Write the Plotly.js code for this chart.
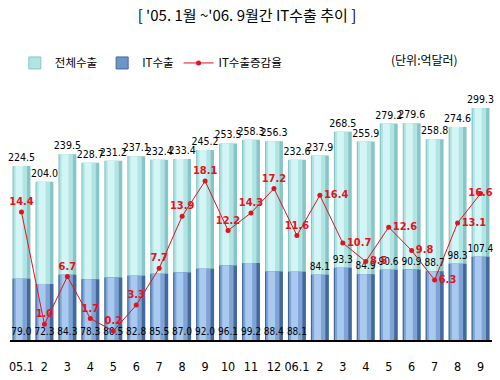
<!DOCTYPE html>
<html>
<head>
<meta charset="utf-8">
<script src="https://cdn.plot.ly/plotly-3.0.1.min.js"></script>
<style>html,body{margin:0;padding:0;background:#fff;}#chart{width:500px;height:380px;}</style>
</head>
<body>
<div id="chart"></div>
<script>
const months = ['05.1','05.2','05.3','05.4','05.5','05.6','05.7','05.8','05.9','05.10','05.11','05.12','06.1','06.2','06.3','06.4','06.5','06.6','06.7','06.8','06.9'];
const tickLabels = ['05.1','2','3','4','5','6','7','8','9','10','11','12','06.1','2','3','4','5','6','7','8','9'];
const totalExport = [224.5,204.0,239.5,228.7,231.2,237.1,232.4,233.4,245.2,253.5,258.3,256.3,232.6,237.9,268.5,255.9,279.2,279.6,258.8,274.6,299.3];
const itExport = [79.0,72.3,84.3,78.3,80.5,82.8,85.5,87.0,92.0,96.1,99.2,88.4,88.1,84.1,93.3,84.9,90.6,90.9,88.7,98.3,107.4];
const itGrowth = [14.4,1.0,6.7,1.7,0.2,3.3,7.7,13.9,18.1,12.2,14.3,17.2,11.6,16.4,10.7,8.5,12.6,9.8,6.3,13.1,16.6];
const seriesNames = ['전체수출','IT수출','IT수출증감율'];

const NUM_FONT = '"DejaVu Sans Condensed","Liberation Sans",sans-serif';
const KR_FONT = '"Noto Sans CJK KR","Noto Sans",sans-serif';

const itTextPos = itExport.map((v,i)=> i < 13 ? 'inside' : 'outside');
const growthTextPos = itGrowth.map((v,i)=> i < 13 ? 'top center' : (i === 20 ? 'middle center' : 'middle right'));

function layer(y, color, width, offset, name){
  const t = {type:'bar', x:months, y:y, name:name, showlegend:false, width:width,
    marker:{color:color, line:{width:0}}, hoverinfo:'skip'};
  if(offset !== null) t.offset = offset;
  return t;
}

const traces = [
  layer(totalExport,'#86c6c6',0.78,null,seriesNames[0]),
  layer(totalExport,'#b3e4e4',0.58,-0.34,seriesNames[0]),
  layer(totalExport,'#d3f5f5',0.30,-0.25,seriesNames[0]),
  layer(itExport,'#44679c',0.78,null,seriesNames[1]),
  layer(itExport,'#7ea3d4',0.58,-0.34,seriesNames[1]),
  layer(itExport,'#a9c9ef',0.30,-0.25,seriesNames[1]),
  {type:'bar', x:months, y:totalExport, name:seriesNames[0], width:0.78,
   marker:{color:'rgba(0,0,0,0)', line:{width:0}}, showlegend:false,
   texttemplate:'%{y:.1f}', textposition:'outside', textangle:0, cliponaxis:false, constraintext:'none',
   textfont:{family:NUM_FONT,size:10.5,color:'#000'}},
  {type:'bar', x:months, y:itExport, name:seriesNames[1], width:0.78,
   marker:{color:'rgba(0,0,0,0)', line:{width:0}}, showlegend:false,
   texttemplate:'%{y:.1f}', textposition:itTextPos, insidetextanchor:'start', textangle:0, cliponaxis:false, constraintext:'none',
   textfont:{family:NUM_FONT,size:10,color:'#000'}},
  {type:'bar', x:[null], y:[null], name:seriesNames[0], marker:{color:'#b3e4e4', line:{color:'#86c6c6',width:1}}, showlegend:true},
  {type:'bar', x:[null], y:[null], name:seriesNames[1], marker:{color:'#6f94c8', line:{color:'#44679c',width:1}}, showlegend:true},
  {type:'scatter', mode:'lines+markers+text', x:months, y:itGrowth, yaxis:'y2', name:seriesNames[2],
   line:{color:'#e0141c', width:1}, marker:{color:'#e0141c', size:5},
   texttemplate:'%{y:.1f}', textposition:growthTextPos, cliponaxis:false,
   textfont:{family:NUM_FONT,size:11,color:'#e8101a', weight:'bold'}}
];

const layout = {
  width:500, height:380,
  margin:{l:10, r:8, t:95, b:40},
  paper_bgcolor:'#fff', plot_bgcolor:'#fff',
  barmode:'overlay',
  showlegend:true,
  title:{text:"[ '05. 1월 ~'06. 9월간 IT수출 추이 ]", x:0.494, xanchor:'center', y:0.958, yanchor:'middle',
         font:{family:KR_FONT, size:15, color:'#000'}},
  legend:{orientation:'h', x:0.01, xanchor:'left', y:1.19, yanchor:'top',
          font:{family:KR_FONT, size:11.5, color:'#000'}, itemwidth:30, tracegroupgap:0, bgcolor:'rgba(0,0,0,0)'},
  xaxis:{type:'category', categoryorder:'array', categoryarray:months, range:[-0.5,20.5],
         tickvals:months, ticktext:tickLabels, showline:true, linecolor:'#000', linewidth:2,
         ticks:'', showgrid:false, zeroline:false, ticklabelstandoff:14,
         tickfont:{family:NUM_FONT, size:12.5, color:'#000'}},
  yaxis:{range:[0,316], visible:false, showgrid:false, zeroline:false},
  yaxis2:{range:[-0.87,28.37], overlaying:'y', visible:false, showgrid:false, zeroline:false},
  annotations:[
    {text:'(단위:억달러)', xref:'paper', yref:'paper', x:0.86, y:1.143, xanchor:'center', yanchor:'middle',
     showarrow:false, font:{family:KR_FONT, size:12, color:'#000'}}
  ]
};

Plotly.newPlot('chart', traces, layout, {displayModeBar:false, staticPlot:true});
</script>
</body>
</html>
